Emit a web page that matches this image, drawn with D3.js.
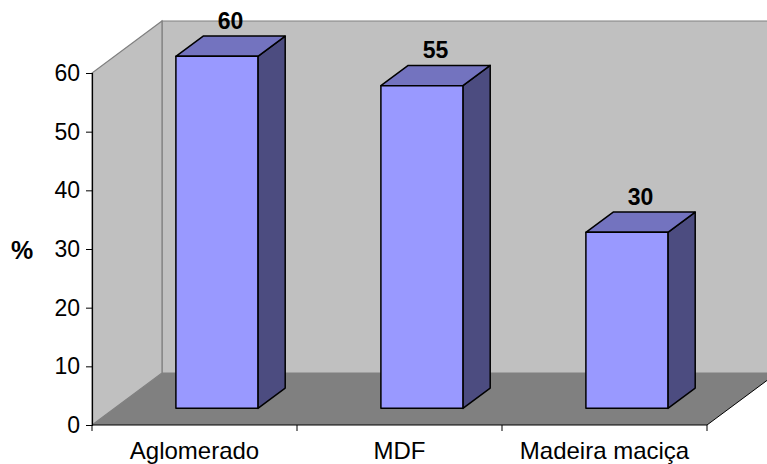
<!DOCTYPE html>
<html>
<head>
<meta charset="utf-8">
<script src="https://cdn.jsdelivr.net/npm/d3@7"></script>
<style>
  html, body { margin: 0; padding: 0; background: #fff; }
  svg { display: block; font-family: "Liberation Sans", Arial, sans-serif; }
</style>
</head>
<body>
<svg id="chart" width="767" height="464"></svg>
<script>
// Data
const categories = ["Aglomerado", "MDF", "Madeira maciça"];
const values = [60, 55, 30];
const yTicks = [0, 10, 20, 30, 40, 50, 60];
const yTitle = "%";

const svg = d3.select("#chart");

// Plot geometry (front plane of the 3D box)
const plotLeft = 92, plotRight = 707, plotBottom = 425, plotTop = 73;
const DX = 70, DY = -52;               // full depth offset of the box
const barFront = 0.32, barBack = 0.71; // bar position within the depth

const x = d3.scaleBand()
  .domain(categories)
  .range([plotLeft, plotRight])
  .paddingInner(0.6)
  .paddingOuter(0.3);

const y = d3.scaleLinear()
  .domain([0, 60])
  .range([plotBottom, plotTop]);

// project a point at depth d (0 = front, 1 = back)
const P = (px, py, d) => [px + d * DX, py + d * DY];
const poly = pts => "M" + pts.map(p => p.join(",")).join("L") + "Z";

// Back wall
svg.append("path")
  .attr("d", poly([P(plotLeft, y(0), 1), P(plotLeft, y(60), 1), P(plotRight, y(60), 1), P(plotRight, y(0), 1)]))
  .attr("fill", "#c0c0c0").attr("stroke", "#808080").attr("stroke-width", 1.2);

// Side wall
svg.append("path")
  .attr("d", poly([P(plotLeft, y(0), 0), P(plotLeft, y(60), 0), P(plotLeft, y(60), 1), P(plotLeft, y(0), 1)]))
  .attr("fill", "#c0c0c0").attr("stroke", "#808080").attr("stroke-width", 1.2);

// Floor
svg.append("path")
  .attr("d", poly([P(plotLeft, y(0), 0), P(plotRight, y(0), 0), P(plotRight, y(0), 1), P(plotLeft, y(0), 1)]))
  .attr("fill", "#808080").attr("stroke", "none");
svg.append("path")
  .attr("d", "M" + P(plotRight, y(0), 0).join(",") + "L" + P(plotRight, y(0), 1).join(","))
  .attr("stroke", "#000").attr("stroke-width", 1).attr("fill", "none");

// Y axis
const yAxis = d3.axisLeft(y).tickValues(yTicks).tickSize(6).tickPadding(6).tickFormat(d3.format("d"));
const gy = svg.append("g").attr("transform", `translate(${plotLeft},0)`).call(yAxis);
gy.select(".domain").attr("stroke", "#000").attr("stroke-width", 1.2);
gy.selectAll(".tick line").attr("stroke", "#000");
gy.selectAll(".tick text")
  .attr("font-size", 23).attr("fill", "#000")
  .attr("font-family", "'Liberation Sans', Arial, sans-serif");

// X axis with tick marks at category boundaries
const gx = svg.append("g").attr("transform", `translate(0,${plotBottom})`);
gx.append("line").attr("x1", plotLeft).attr("x2", plotRight).attr("y1", 0).attr("y2", 0)
  .attr("stroke", "#000").attr("stroke-width", 1.2);
const step = x.step();
const bounds = d3.range(categories.length + 1).map(i => plotLeft + i * step);
gx.selectAll("line.tk").data(bounds).join("line").attr("class", "tk")
  .attr("x1", d => d).attr("x2", d => d).attr("y1", 0).attr("y2", 6)
  .attr("stroke", "#000");
gx.selectAll("text.cat").data(categories).join("text").attr("class", "cat")
  .attr("x", d => x(d) + x.bandwidth() / 2)
  .attr("y", 34)
  .attr("text-anchor", "middle")
  .attr("font-size", 24)
  .attr("fill", "#000")
  .text(d => d);

// Y title
svg.append("text")
  .attr("x", 22).attr("y", 259)
  .attr("text-anchor", "middle")
  .attr("font-size", 25).attr("font-weight", "bold")
  .text(yTitle);

// Bars
const data = categories.map((c, i) => ({ c, v: values[i] }));
const bars = svg.selectAll("g.bar").data(data).join("g").attr("class", "bar");
const bw = x.bandwidth();

bars.append("path") // side face
  .attr("d", d => {
    const x1 = x(d.c) + bw;
    return poly([P(x1, y(0), barFront), P(x1, y(d.v), barFront), P(x1, y(d.v), barBack), P(x1, y(0), barBack)]);
  })
  .attr("fill", "#4c4c80").attr("stroke", "#000").attr("stroke-width", 1.5).attr("stroke-linejoin", "round");

bars.append("path") // top face
  .attr("d", d => {
    const x0 = x(d.c), x1 = x0 + bw;
    return poly([P(x0, y(d.v), barFront), P(x1, y(d.v), barFront), P(x1, y(d.v), barBack), P(x0, y(d.v), barBack)]);
  })
  .attr("fill", "#7373bf").attr("stroke", "#000").attr("stroke-width", 1.5).attr("stroke-linejoin", "round");

bars.append("path") // front face
  .attr("d", d => {
    const x0 = x(d.c), x1 = x0 + bw;
    return poly([P(x0, y(0), barFront), P(x0, y(d.v), barFront), P(x1, y(d.v), barFront), P(x1, y(0), barFront)]);
  })
  .attr("fill", "#9999ff").attr("stroke", "#000").attr("stroke-width", 1.5).attr("stroke-linejoin", "round");

// Value labels
bars.append("text")
  .attr("x", d => P(x(d.c) + bw / 2, 0, (barFront + barBack) / 2)[0])
  .attr("y", d => P(0, y(d.v), barBack)[1] - 7)
  .attr("text-anchor", "middle")
  .attr("font-size", 23).attr("font-weight", "bold")
  .text(d => d.v);
</script>
</body>
</html>
